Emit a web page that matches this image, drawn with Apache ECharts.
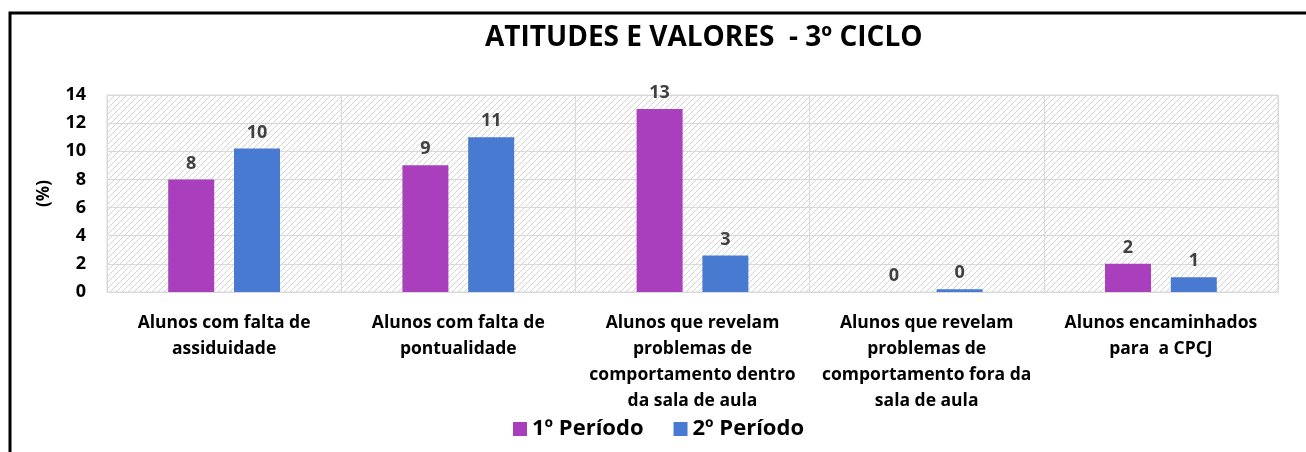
<!DOCTYPE html>
<html><head><meta charset="utf-8">
<script src="https://cdn.jsdelivr.net/npm/echarts@6/dist/echarts.min.js"></script>
<style>html,body{margin:0;padding:0;background:#fff;}#c{width:1306px;height:452px;}</style>
</head><body><div id="c"></div>
<script>
const categories = [
  "Alunos com falta de\nassiduidade",
  "Alunos com falta de\npontualidade",
  "Alunos que revelam\nproblemas de\ncomportamento dentro\nda sala de aula",
  "Alunos que revelam\nproblemas de\ncomportamento fora da\nsala de aula",
  "Alunos encaminhados\npara  a CPCJ"
];
const periodo1 = [8, 9, 13, 0, 2];
const periodo2 = [10.2, 11, 2.6, 0.2, 1.05];
const seriesNames = ["1º Período", "2º Período"];
const yTicks = [0, 2, 4, 6, 8, 10, 12, 14];

// hatched pattern
const pc = document.createElement('canvas');
pc.width = 6; pc.height = 6;
const px = pc.getContext('2d');
px.fillStyle = '#ffffff'; px.fillRect(0,0,6,6);
px.strokeStyle = '#d4d4d4'; px.lineWidth = 1;
px.beginPath();
px.moveTo(0,6); px.lineTo(6,0);
px.moveTo(-3,3); px.lineTo(3,-3);
px.moveTo(3,9); px.lineTo(9,3);
px.stroke();

const font = '"Open Sans", "Noto Sans", sans-serif';
const chart = echarts.init(document.getElementById('c'), null, {renderer:'canvas'});
const lbl = {show:true, position:'top', distance:7, color:'#404040', fontWeight:'bold', fontSize:18, fontFamily:font,
  formatter: p => Math.round(p.value)};
chart.setOption({
  animation:false,
  title:{text:'ATITUDES E VALORES  - 3º CICLO', left:480, top:19,
    textStyle:{fontFamily:font, fontWeight:'bold', fontSize:28, color:'#000'}},
  graphic:[{type:'rect', shape:{x:10, y:13, width:1400, height:600}, style:{fill:null, stroke:'#000', lineWidth:3}, silent:true}],
  legend:{bottom:7, left:508, itemWidth:14, itemHeight:14, itemGap:30, icon:'rect',
    textStyle:{fontFamily:font, fontWeight:'bold', fontSize:22, color:'#000'}},
  grid:{left:107, right:28, top:95, bottom:160, show:true,
    backgroundColor:{image:pc, repeat:'repeat'}, borderColor:'#d9d9d9', borderWidth:1},
  xAxis:{type:'category', data:categories,
    axisLine:{show:true, lineStyle:{color:'#d9d9d9'}}, axisTick:{show:false},
    splitLine:{show:true, lineStyle:{color:'#d9d9d9', width:1}},
    axisLabel:{interval:0, margin:18, fontFamily:font, fontWeight:'bold', fontSize:17.5, color:'#000', lineHeight:26}},
  yAxis:{type:'value', min:0, max:14, interval:2,
    name:'(%)', nameLocation:'middle', nameGap:54, nameRotate:90,
    nameTextStyle:{fontFamily:font, fontWeight:'bold', fontSize:17, color:'#000'},
    axisLine:{show:false}, axisTick:{show:false},
    splitLine:{show:true, lineStyle:{color:'#d9d9d9', width:1}},
    axisLabel:{margin:21, fontFamily:font, fontWeight:'bold', fontSize:18, color:'#000',
      formatter: v => yTicks.includes(v) ? String(v) : ''}},
  series:[
    {name:seriesNames[0], type:'bar', data:periodo1, barWidth:46, barGap:'43%',
      itemStyle:{color:'#A93FBD'}, label:lbl},
    {name:seriesNames[1], type:'bar', data:periodo2, barWidth:46,
      itemStyle:{color:'#477AD0'}, label:lbl}
  ]
});
</script></body></html>
